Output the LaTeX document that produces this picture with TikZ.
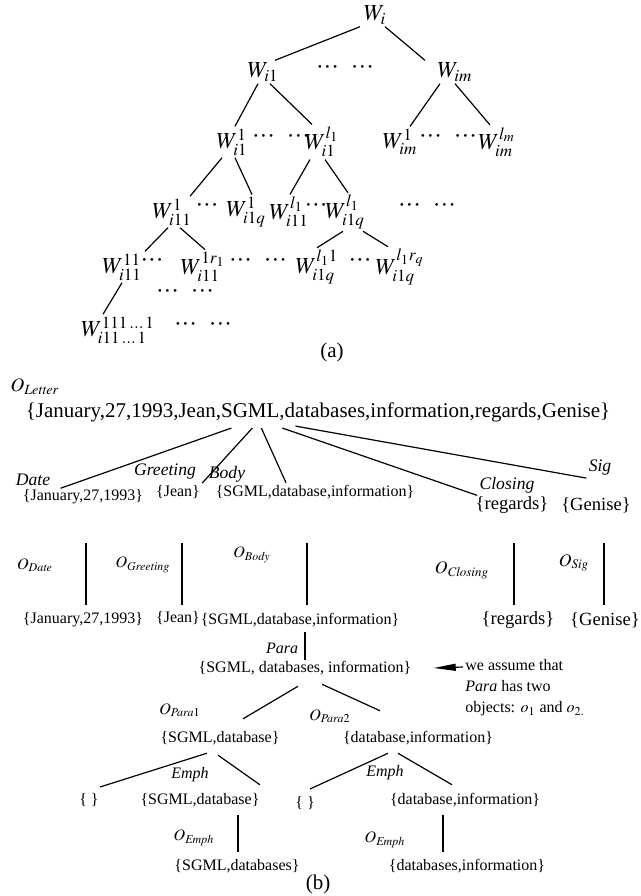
\documentclass[tikz,border=0pt]{standalone}
\usepackage{mathptmx}
\usepackage{fontspec}
\setmainfont{Liberation Serif}
\usetikzlibrary{arrows.meta}
\newcommand{\mdots}{\textperiodcentered\textperiodcentered\textperiodcentered}
\tikzset{
  wlab/.style={inner sep=1pt,font=\fontsize{11.5}{13}\selectfont},
  capt/.style={inner sep=1pt,font=\fontsize{10.5}{12}\selectfont},
  bigset/.style={inner sep=1pt,font=\fontsize{9.3}{11}\selectfont},
  smallset/.style={inner sep=1pt,font=\fontsize{8}{9.5}\selectfont},
  bigtag/.style={inner sep=1pt,font=\fontsize{8.8}{10.5}\selectfont\itshape},
  smalltag/.style={inner sep=1pt,font=\fontsize{8}{9.5}\selectfont\itshape},
  link/.style={line width=0.6pt}
}
\begin{document}
\begin{tikzpicture}[x=0.5pt,y=-0.5pt]
\useasboundingbox (0,0) rectangle (641,896);
% (a) the tree of W's
\node[wlab] (wi) at (375,15) {$W_i$};
\node[wlab] (wi1) at (263,72) {$W_{i1}$};
\node[wlab] (da1) at (345,70) {\mdots\hspace{6pt}\mdots};
\node[wlab] (wim) at (455,72) {$W_{im}$};
\node[wlab] (w1) at (232,142) {$W_{i1}^{1}$};
\node[wlab] (da2) at (281,139) {\mdots\hspace{6pt}\mdots};
\node[wlab] (wl) at (322,142) {$W_{i1}^{l_1}$};
\node[wlab] (wm1) at (400,142) {$W_{im}^{1}$};
\node[wlab] (da3) at (448,139) {\mdots\hspace{6pt}\mdots};
\node[wlab] (wml) at (497,142) {$W_{im}^{l_m}$};
\node[wlab] (w11) at (172,212) {$W_{i11}^{1}$};
\node[wlab] (da4) at (207,208) {\mdots};
\node[wlab] (w1q) at (246,212) {$W_{i1q}^{1}$};
\node[wlab] (wl11) at (289,212) {$W_{i11}^{l_1}$};
\node[wlab] (da5) at (316,208) {\mdots};
\node[wlab] (wlq) at (345,212) {$W_{i1q}^{l_1}$};
\node[wlab] (da6) at (427,208) {\mdots\hspace{6pt}\mdots};
\node[wlab] (w111) at (122,267) {$W_{i11}^{11}$};
\node[wlab] (da7) at (152,263) {\mdots};
\node[wlab] (w1r) at (203,267) {$W_{i11}^{1r_1}$};
\node[wlab] (da8) at (258,263) {\mdots\hspace{6pt}\mdots};
\node[wlab] (wlq1) at (317,267) {$W_{i1q}^{l_1 1}$};
\node[wlab] (da9) at (360,263) {\mdots};
\node[wlab] (wlqr) at (400,267) {$W_{i1q}^{l_1 r_q}$};
\node[wlab] (da10) at (185,294) {\mdots\hspace{6pt}\mdots};
\node[wlab] (wlast) at (118,330) {$W_{i11\,\ldots\,1}^{111\,\ldots\,1}$};
\node[wlab] (da11) at (203,327) {\mdots\hspace{6pt}\mdots};
\node[capt] (capa) at (332,352) {(a)};
\draw[link] ([xshift=-7.5pt]wi.south) -- ([xshift=6pt]wi1.north);
\draw[link] ([xshift=5pt]wi.south) -- ([xshift=-15pt]wim.north);
\draw[link] ([xshift=-2.5pt]wi1.south) -- ([xshift=1.5pt]w1.north);
\draw[link] ([xshift=3.5pt]wi1.south) -- ([xshift=-5pt]wl.north);
\draw[link] ([xshift=-7.5pt]wim.south) -- ([xshift=5pt]wm1.north);
\draw[link] (wim.south) -- ([xshift=-3.5pt]wml.north);
\draw[link] ([xshift=-5pt]w1.south) -- ([xshift=9pt]w11.north);
\draw[link] ([xshift=1.5pt]w1.south) -- ([xshift=3pt]w1q.north);
\draw[link] ([xshift=-6pt]wl.south) -- ([xshift=0.5pt]wl11.north);
\draw[link] ([xshift=1.5pt]wl.south) -- ([xshift=1.5pt]wlq.north);
\draw[link] ([xshift=-2pt]w11.south) -- ([xshift=11.5pt]w111.north);
\draw[link] ([xshift=4pt]w11.south) -- ([xshift=1pt]w1r.north);
\draw[link] ([xshift=-1pt]wlq.south) -- (wlq1.north);
\draw[link] ([xshift=9pt]wlq.south) -- ([xshift=-6pt]wlqr.north);
\draw[link] (w111.south) -- ([xshift=-7.5pt]wlast.north);
% (b) the letter
\coordinate (vtop) at (0,543);
\coordinate (vbot) at (0,605);
\node[inner sep=1pt,font=\fontsize{9.5}{11}\selectfont] (oletter) at (35,387) {$O_{\mathit{Letter}}$};
\node[inner sep=1pt,font=\fontsize{10.5}{12}\selectfont] (letter) at (318,412) {\{January,27,1993,Jean,SGML,databases,information,regards,Genise\}};
\node[bigtag] (date) at (33,480) {Date};
\node[bigtag] (greet) at (165,472) {Greeting};
\node[bigtag] (body) at (227,474) {Body};
\node[bigtag] (closing) at (507,485) {Closing};
\node[bigtag] (sig) at (600,468) {Sig};
\node[smallset] (sdate) at (83,497) {\{January,27,1993\}};
\node[smallset] (sgreet) at (178,492) {\{Jean\}};
\node[smallset] (sbody) at (315,492) {\{SGML,database,information\}};
\node[bigset] (sclosing) at (512,505) {\{regards\}};
\node[bigset] (ssig) at (596,505) {\{Genise\}};
\draw[link] ([xshift=104pt,yshift=-2pt]letter.south west) -- ([xshift=4pt]date.south east);
\draw[link] ([xshift=114.5pt,yshift=-2pt]letter.south west) -- (sgreet.north east);
\draw[link] ([xshift=119pt,yshift=-2pt]letter.south west) -- ([xshift=-14.5pt]sbody.north);
\draw[link] ([xshift=129.5pt,yshift=-2pt]letter.south west) -- (closing.south west);
\draw[link] ([xshift=136pt,yshift=-1pt]letter.south west) -- (sig.south west);
\node[smalltag] (odate) at (35,565) {$O_{\mathit{Date}}$};
\node[smalltag] (ogreet) at (143,565) {$O_{\mathit{Greeting}}$};
\node[smalltag] (obody) at (252,555) {$O_{\mathit{Body}}$};
\node[bigtag] (oclosing) at (462,570) {$O_{\mathit{Closing}}$};
\node[bigtag] (osig) at (574,563) {$O_{\mathit{Sig}}$};
\node[smallset] (ldate) at (83,620) {\{January,27,1993\}};
\node[smallset] (lgreet) at (178,618) {\{Jean\}};
\node[smallset] (lbody) at (300,620) {\{SGML,database,information\}};
\node[bigset] (lclosing) at (518,620) {\{regards\}};
\node[bigset] (lsig) at (605,620) {\{Genise\}};
\draw[link] ([xshift=1.5pt]sdate.south |- vtop) -- ([xshift=1.5pt]ldate.north |- vbot);
\draw[link] ([xshift=2pt]sgreet.south |- vtop) -- ([xshift=2pt]lgreet.north |- vbot);
\draw[link] ([xshift=-4pt]sbody.south |- vtop) -- ([xshift=3.5pt]lbody.north |- vbot);
\draw[link] ([xshift=1pt]sclosing.south |- vtop) -- ([xshift=-2pt]lclosing.north |- vbot);
\draw[link] ([xshift=4pt]ssig.south |- vtop) -- ([xshift=-0.5pt]lsig.north |- vbot);
% Para and its two objects
\coordinate (ptop) at (0,632);
\coordinate (pbot) at (0,660);
\node[smalltag] (para) at (282,648) {Para};
\node[smallset] (spara) at (305,668) {\{SGML, databases, information\}};
\draw[link] ([xshift=2.5pt]lbody.south |- ptop) -- (spara.north |- pbot);
\node[smallset,anchor=north west,align=left,font=\fontsize{8}{10.5}\selectfont] (note) at (463,657)
  {we assume that\\ \textit{Para} has two\\ objects: $o_1$ and $o_{2.}$};
\draw[link,-{Triangle[length=11pt,width=3.5pt]}] ([yshift=-5pt]note.north west) -- ([xshift=10pt]spara.east);
\node[smalltag] (op1) at (180,710) {$O_{\mathit{Para}1}$};
\node[smalltag] (op2) at (330,716) {$O_{\mathit{Para}2}$};
\node[smallset] (sp1) at (220,738) {\{SGML,database\}};
\node[smallset] (sp2) at (418,738) {\{database,information\}};
\draw[link] ([xshift=-3.5pt,yshift=-4.5pt]spara.south) -- ([xshift=11.5pt,yshift=5pt]sp1.north);
\draw[link] ([xshift=8.5pt,yshift=-3.5pt]spara.south) -- ([xshift=-19pt,yshift=9pt]sp2.north);
\node[smallset] (e0) at (89,800) {\{ \}};
\node[smalltag] (emph1) at (190,775) {Emph};
\node[smallset] (se1) at (200,800) {\{SGML,database\}};
\node[smallset] (e1) at (305,803) {\{ \}};
\node[smalltag] (emph2) at (385,773) {Emph};
\node[smallset] (se2) at (465,800) {\{database,information\}};
\draw[link] ([xshift=-6.5pt,yshift=-3pt]sp1.south) -- ([xshift=5.5pt,yshift=2pt]e0.north);
\draw[link] ([xshift=-1pt,yshift=-4pt]sp1.south) -- ([xshift=30pt,yshift=3pt]se1.north);
\draw[link] ([xshift=-15pt,yshift=-3pt]sp2.south) -- ([xshift=2.5pt,yshift=2.5pt]e1.north);
\draw[link] ([xshift=-10pt,yshift=-3pt]sp2.south) -- ([xshift=-6.5pt,yshift=3pt]se2.north);
\coordinate (etop) at (0,815);
\coordinate (ebot) at (0,852);
\node[smalltag] (oe1) at (194,838) {$O_{\mathit{Emph}}$};
\node[smalltag] (oe2) at (385,840) {$O_{\mathit{Emph}}$};
\node[smallset] (le1) at (237,866) {\{SGML,databases\}};
\node[smallset] (le2) at (467,866) {\{databases,information\}};
\draw[link] ([xshift=19pt]se1.south |- etop) -- ([xshift=0.5pt]le1.north |- ebot);
\draw[link] ([xshift=-11pt]se2.south |- etop) -- ([xshift=-12pt]le2.north |- ebot);
\node[capt] (capb) at (318,884) {(b)};
\end{tikzpicture}
\end{document}
